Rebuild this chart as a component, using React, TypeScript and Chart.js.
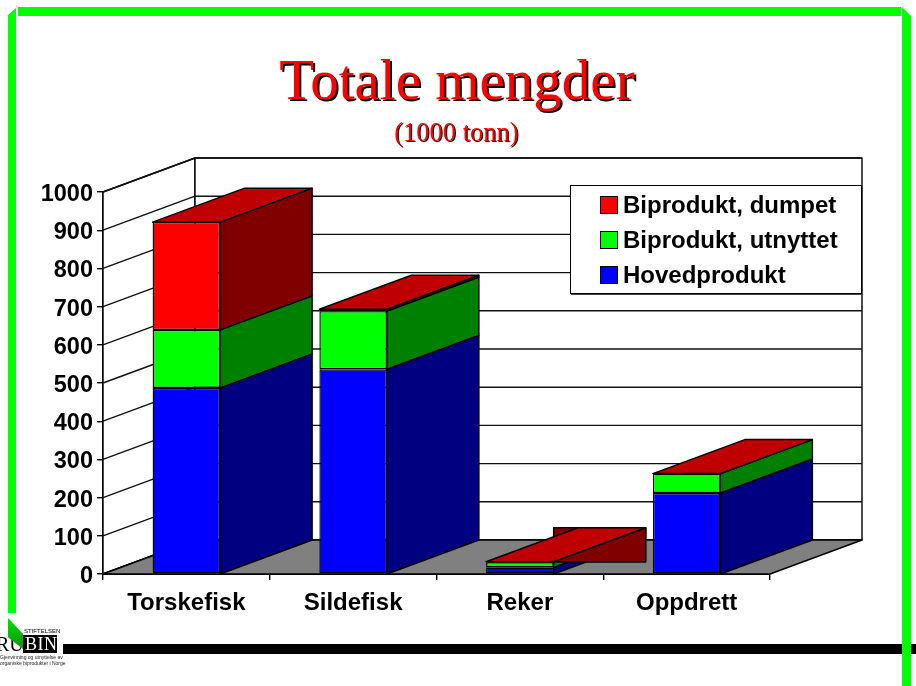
import React, { useEffect, useRef } from "react";
import { Chart, registerables } from "chart.js";

Chart.register(...registerables);

const categories = ["Torskefisk", "Sildefisk", "Reker", "Oppdrett"];
const hovedprodukt = [487, 536, 17, 212];
const utnyttet = [152, 152, 14, 51];
const dumpet = [282, 5, 1, 0];
const yTicks = [0, 100, 200, 300, 400, 500, 600, 700, 800, 900, 1000];
const legendItems = [
  { label: "Biprodukt, dumpet", color: "#ff0000" },
  { label: "Biprodukt, utnyttet", color: "#00ff00" },
  { label: "Hovedprodukt", color: "#0000ff" },
];
const sideColors = ["#000080", "#008000", "#800000"];
const topColor = "#bf0000";
const floorColor = "#808080";
const rekerIndex = 2;
const DX = 92;
const DY = -34;
const LW = 1.4;

function poly(ctx: CanvasRenderingContext2D, pts: number[][], fill: any, stroke = "#000", lw = LW) {
  ctx.beginPath();
  pts.forEach((p, i) => (i ? ctx.lineTo(p[0], p[1]) : ctx.moveTo(p[0], p[1])));
  ctx.closePath();
  if (fill) {
    ctx.fillStyle = fill;
    ctx.fill();
  }
  if (stroke) {
    ctx.lineJoin = "round";
    ctx.strokeStyle = stroke;
    ctx.lineWidth = lw;
    ctx.stroke();
  }
}

const decorPlugin = {
  id: "decor",
  beforeDraw(chart: any) {
    const ctx = chart.ctx as CanvasRenderingContext2D;
    ctx.save();
    ctx.fillStyle = "#fff";
    ctx.fillRect(0, 0, 916, 686);
    ctx.fillStyle = "#00ff00";
    ctx.fillRect(18, 7, 883, 9);
    poly(ctx, [[8, 15], [16, 8], [16, 613], [8, 613]], "#00ff00", "");
    poly(ctx, [[902, 7], [911, 16], [911, 686], [902, 686]], "#00ff00", "");
    ctx.fillStyle = "#000";
    ctx.fillRect(63, 644, 853, 10);
    ctx.fillStyle = "#00ff00";
    ctx.fillRect(902, 644, 9, 10);
    ctx.fillStyle = "#000";
    ctx.fillRect(23, 635, 34, 18);
    ctx.restore();
  },
  beforeDatasetsDraw(chart: any) {
    const ctx = chart.ctx as CanvasRenderingContext2D;
    const { x, y } = chart.scales;
    const left = x.left;
    const right = x.right;
    const y0 = y.getPixelForValue(0);
    const yMax = y.getPixelForValue(1000);
    ctx.save();
    // walls
    poly(ctx, [[left, yMax], [left + DX, yMax + DY], [left + DX, y0 + DY], [left, y0]], "#fff");
    poly(ctx, [[left + DX, yMax + DY], [right + DX, yMax + DY], [right + DX, y0 + DY], [left + DX, y0 + DY]], "#fff");
    // gridlines on both walls
    ctx.strokeStyle = "#111";
    ctx.lineWidth = LW;
    yTicks.forEach((v) => {
      const py = y.getPixelForValue(v);
      ctx.beginPath();
      ctx.moveTo(left, py);
      ctx.lineTo(left + DX, py + DY);
      ctx.lineTo(right + DX, py + DY);
      ctx.stroke();
    });
    // floor
    poly(ctx, [[left, y0], [left + DX, y0 + DY], [right + DX, y0 + DY], [right, y0]], floorColor);

    // side and top faces of each bar, left to right
    categories.forEach((_, i) => {
      let total = 0;
      const bar = chart.getDatasetMeta(0).data[i];
      const half = bar.width / 2;
      const xl = bar.x - half;
      const xr = bar.x + half;
      [hovedprodukt, utnyttet, dumpet].forEach((series, s) => {
        const a = y.getPixelForValue(total);
        total += series[i];
        const b = y.getPixelForValue(total);
        poly(ctx, [[xr, a], [xr + DX, a + DY], [xr + DX, b + DY], [xr, b]], sideColors[s]);
      });
      const t = y.getPixelForValue(total);
      if (i === rekerIndex) {
        poly(ctx, [[xr, t], [xr, t + DY], [xr + DX, t + DY], [xr + DX, t]], sideColors[2]);
        poly(ctx, [[xr, t], [xr + DX, t + DY], [xr + DX, t]], sideColors[2]);
      }
      poly(ctx, [[xl, t], [xr, t], [xr + DX, t + DY], [xl + DX, t + DY]], topColor);
    });
    ctx.restore();
  },
};

const textBase: React.CSSProperties = { position: "absolute", whiteSpace: "nowrap", margin: 0 };

export default function App() {
  const ref = useRef<HTMLCanvasElement | null>(null);
  useEffect(() => {
    const chart = new Chart(ref.current as HTMLCanvasElement, {
      type: "bar",
      data: {
        labels: categories,
        datasets: [
          { label: "Hovedprodukt", data: hovedprodukt, backgroundColor: "#0000ff" },
          { label: "Biprodukt, utnyttet", data: utnyttet, backgroundColor: "#00ff00" },
          { label: "Biprodukt, dumpet", data: dumpet, backgroundColor: "#ff0000" },
        ].map((d) => ({ ...d, borderColor: "#000", borderWidth: 1.4, borderSkipped: false, barPercentage: 0.81, categoryPercentage: 0.5 })),
      },
      options: {
        responsive: false,
        animation: false,
        layout: { padding: { top: 192, right: 146, left: 0, bottom: 0 } },
        plugins: { legend: { display: false }, title: { display: false }, tooltip: { enabled: false } },
        scales: {
          x: {
            stacked: true,
            afterFit: (s: any) => { s.height = 112; },
            grid: { drawOnChartArea: false, drawTicks: true, tickLength: 6, tickColor: "#000", lineWidth: 1.4, offset: true },
            border: { display: true, color: "#000", width: 2 },
            ticks: { color: "#000", font: { family: "Liberation Sans", size: 24, weight: "bold" }, padding: 9, maxRotation: 0 },
          },
          y: {
            stacked: true,
            min: 0,
            max: 1000,
            afterFit: (s: any) => { s.width = 103; },
            grid: { drawOnChartArea: false, drawTicks: true, tickLength: 6, tickColor: "#000", lineWidth: 1.4 },
            border: { display: true, color: "#000", width: 1.4 },
            ticks: {
              stepSize: 100,
              color: "#000",
              font: { family: "Liberation Sans", size: 23.5, weight: "bold", lineHeight: "5px" },
              padding: 4,
              callback: (v: any) => ["", String(v)],
            },
          },
        },
      },
      plugins: [decorPlugin],
    } as any);
    return () => chart.destroy();
  }, []);

  return (
    <div style={{ position: "absolute", left: 0, top: 0, width: 916, height: 686, overflow: "hidden", background: "#fff" }}>
      <canvas ref={ref} width={916} height={686} style={{ position: "absolute", left: 0, top: 0, display: "block" }} />
      <div style={{ ...textBase, left: 0, width: 914, top: 48, textAlign: "center", fontFamily: "Liberation Serif", fontSize: 57, lineHeight: "64px", color: "#ff0000", textShadow: "2px 2px 0 #000" }}>
        Totale mengder
      </div>
      <div style={{ ...textBase, left: 0, width: 913, top: 117, textAlign: "center", fontFamily: "Liberation Serif", fontSize: 26.5, lineHeight: "30px", color: "#ff0000", textShadow: "1px 1px 0 #000" }}>
        (1000 tonn)
      </div>
      <div style={{ position: "absolute", left: 570, top: 185, width: 290, height: 107, background: "#fff", border: "1px solid #000", boxShadow: "1px 1px 0 #444" }}>
        {legendItems.map((item, i) => (
          <div key={item.label} style={{ position: "absolute", left: 29, top: 10 + i * 35, height: 18, display: "flex", alignItems: "center" }}>
            <span style={{ display: "inline-block", width: 16, height: 16, background: item.color, border: "1px solid #000", marginRight: 5 }} />
            <span style={{ fontFamily: "Liberation Sans", fontWeight: "bold", fontSize: 24, lineHeight: "18px", color: "#000", whiteSpace: "nowrap" }}>{item.label}</span>
          </div>
        ))}
      </div>
      <div style={{ ...textBase, left: -4, top: 634, fontFamily: "Liberation Serif", fontSize: 20, lineHeight: "20px", color: "#000" }}>RU</div>
      <div style={{ ...textBase, left: 25, top: 634, fontFamily: "Liberation Serif", fontSize: 18, lineHeight: "20px", letterSpacing: 0.5, color: "#fff" }}>BIN</div>
      <div style={{ position: "absolute", left: 8, top: 618, width: 15, height: 31, background: "linear-gradient(160deg,#00e000,#109010)", clipPath: "polygon(0 0, 100% 52%, 100% 100%, 0 62%)" }} />
      <div style={{ ...textBase, left: 24, top: 628, fontFamily: "Liberation Sans", fontSize: 6, lineHeight: "6px", color: "#000" }}>STIFTELSEN</div>
      <div style={{ ...textBase, left: 0, top: 654, fontFamily: "Liberation Sans", fontSize: 5, lineHeight: "6px", color: "#222" }}>Gjenvinning og utnyttelse av</div>
      <div style={{ ...textBase, left: 0, top: 660, fontFamily: "Liberation Sans", fontSize: 5, lineHeight: "6px", color: "#222" }}>organiske biprodukter i Norge</div>
    </div>
  );
}
